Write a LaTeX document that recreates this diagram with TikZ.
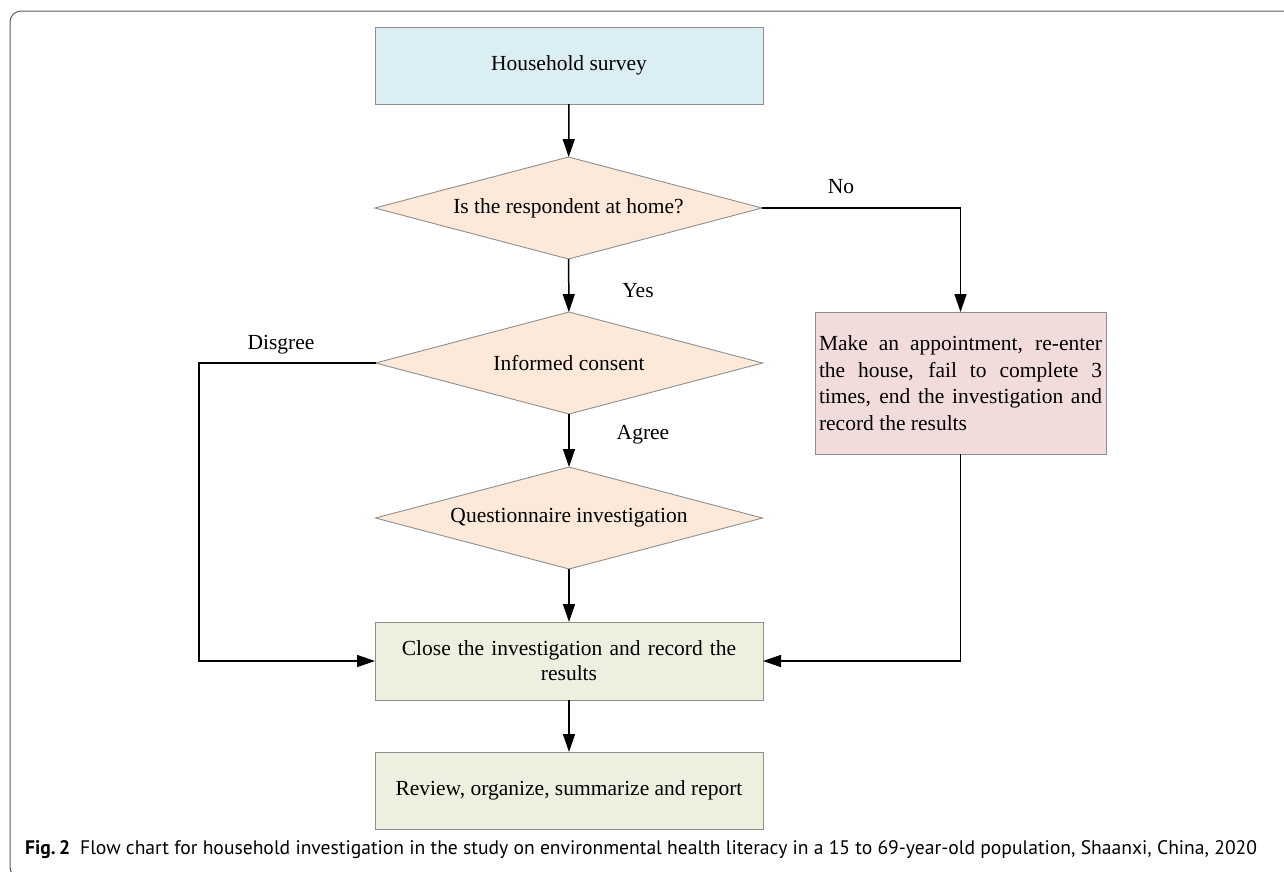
\documentclass[tikz,border=0pt]{standalone}
\usepackage{fontspec}
\setmainfont{Liberation Serif}
\newfontfamily\capfont{PT Sans}
\usetikzlibrary{shapes.geometric,arrows.meta}
\definecolor{surveyblue}{HTML}{DAEEF3}
\definecolor{askpeach}{HTML}{FDE9D9}
\definecolor{revisitpink}{HTML}{F2DCDB}
\definecolor{closegreen}{HTML}{EBF1DE}
\definecolor{edgegray}{HTML}{8E8E8E}
\definecolor{framegray}{HTML}{5A5A5A}

\begin{document}
\begin{tikzpicture}[x=1pt,y=-1pt,
  every node/.style={font=\fontsize{21.5}{26.7}\selectfont},
  stepbox/.style={draw=edgegray,line width=0.9pt,minimum width=388pt,minimum height=77pt,inner sep=0pt,outer sep=0pt},
  askbox/.style={diamond,aspect=3.9,draw=edgegray,line width=0.9pt,fill=askpeach,minimum width=387pt,minimum height=102pt,inner sep=0pt,outer sep=0pt},
  flow/.style={line width=1.5pt,-{Triangle[length=18pt,width=12pt]}},
  lab/.style={inner sep=0pt}]
\useasboundingbox (0,0) rectangle (1284,871);
\draw[framegray,line width=1pt,rounded corners=11pt] (10,11) rectangle (1310,878);
\node[stepbox,fill=surveyblue] (survey) at (569,65.5) {Household survey};
\node[askbox] (home) at (568.5,208) {Is the respondent at home?};
\node[askbox] (consent) at (569,363) {Informed consent};
\node[askbox] (quest) at (569,518) {Questionnaire investigation};
\node[stepbox,fill=revisitpink,minimum width=291pt,minimum height=142pt,text width=283pt,align=justify] (revisit) at (960.5,383)
  {Make an appointment, re-enter\linebreak the house, fail to complete 3\linebreak times, end the investigation and\linebreak record the results};
\node[stepbox,fill=closegreen,minimum height=78pt,text width=345pt,align=center,font=\fontsize{21.5}{25}\selectfont] (close) at (569,661)
  {Close the investigation and record the\\results};
\node[stepbox,fill=closegreen] (review) at (569,790.5) {Review, organize, summarize and report};
\node[lab] (no) at (841,187) {No};
\node[lab] (yes) at (638,291) {Yes};
\node[lab] (disagree) at (281,345) {Disgree};
\node[lab] (agree) at (643,435) {Agree};
\coordinate (dleft) at (199,363);
\draw[flow] (survey) -- (home);
\draw[flow] (home) -- (consent);
\draw[flow] (consent) -- (quest);
\draw[flow] (quest) -- (close);
\draw[flow] (close) -- (review);
\draw[flow] (home.east) -| (revisit.north);
\draw[flow] (consent.west) -- (dleft) |- (close.west);
\draw[flow] (revisit.south) |- (close.east);
\node[anchor=base west,inner sep=0pt,font=\capfont\fontsize{19.6}{22}\selectfont] (caption) at (25,854)
  {\textbf{Fig.\,2}\hspace{10pt}Flow chart for household investigation in the study on environmental health literacy in a 15 to 69-year-old population, Shaanxi, China, 2020};
\end{tikzpicture}
\end{document}
